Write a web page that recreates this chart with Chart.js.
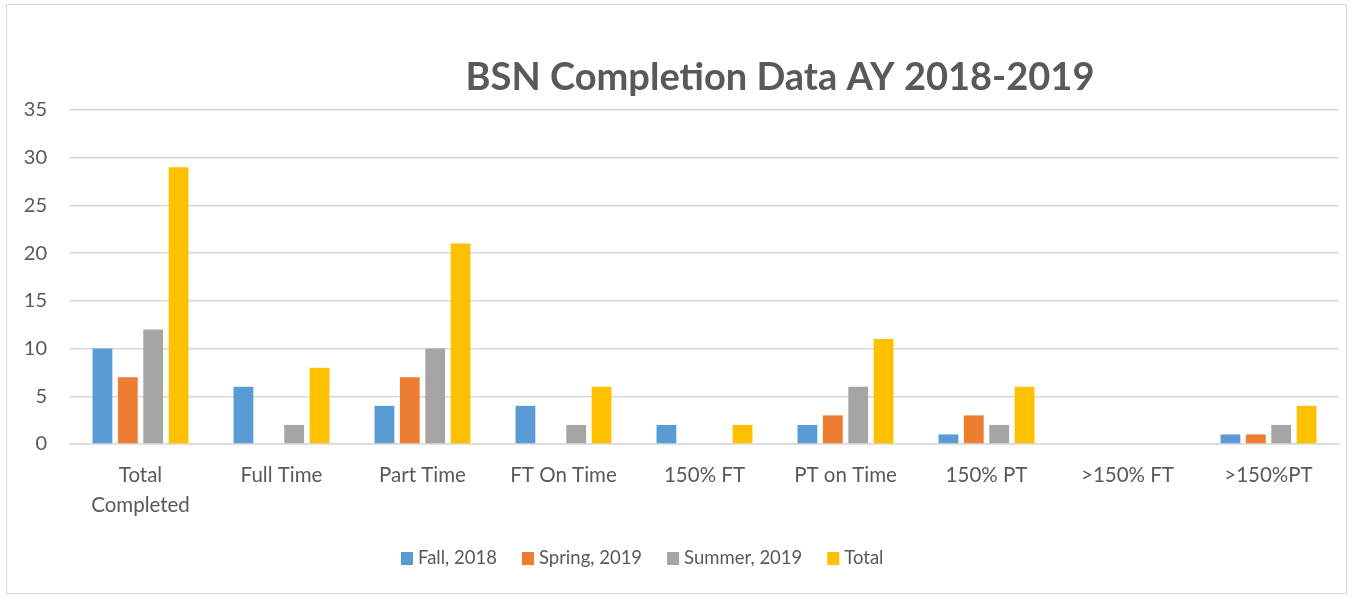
<!DOCTYPE html>
<html>
<head>
<meta charset="utf-8">
<script src="https://cdn.jsdelivr.net/npm/chart.js@4/dist/chart.umd.min.js"></script>
<style>
  html, body { margin: 0; padding: 0; background: #fff; }
  #wrap { position: relative; width: 1352px; height: 597px; }
</style>
</head>
<body>
<div id="wrap"><canvas id="chart" width="1352" height="597"></canvas></div>
<script>
// Chart data
const categories = [['Total', 'Completed'], 'Full Time', 'Part Time', 'FT On Time', '150% FT',
    'PT on Time', '150% PT', '>150% FT', '>150%PT'];
const fall2018   = [10, 6, 4, 4, 2, 2, 1, 0, 1];
const spring2019 = [7, 0, 7, 0, 0, 3, 3, 0, 1];
const summer2019 = [12, 2, 10, 2, 0, 6, 2, 0, 2];
const totals     = [29, 8, 21, 6, 2, 11, 6, 0, 4];
const seriesNames = ['Fall, 2018', 'Spring, 2019', 'Summer, 2019', 'Total'];
const yTicks = [0, 5, 10, 15, 20, 25, 30, 35];

const titleText = 'BSN Completion Data AY 2018-2019';
const textColor = '#595959';
const gridColor = '#d9d9d9';
const font = 'Lato';

// Title sits off-centre like the Excel original, plus the thin outer frame
const frameAndTitle = {
    id: 'frameAndTitle',
    afterDraw(chart) {
        const ctx = chart.ctx;
        ctx.save();
        ctx.strokeStyle = gridColor;
        ctx.lineWidth = 1;
        ctx.strokeRect(6.5, 4.5, 1340, 589);
        ctx.fillStyle = textColor;
        ctx.font = 'bold 38px ' + font;
        ctx.textAlign = 'center';
        ctx.textBaseline = 'alphabetic';
        ctx.fillText(titleText, 780, 90);
        ctx.restore();
    }
};

// Excel-like legend: small squares, tight text gap, built from the datasets
const bottomLegend = {
    id: 'bottomLegend',
    afterDraw(chart) {
        const ctx = chart.ctx;
        ctx.save();
        ctx.font = '18.5px ' + font;
        ctx.textBaseline = 'middle';
        ctx.textAlign = 'left';
        let x = 401;
        const y = 558;
        chart.data.datasets.forEach(ds => {
            ctx.fillStyle = ds.backgroundColor;
            ctx.fillRect(x, y - 6, 12, 13);
            ctx.fillStyle = textColor;
            ctx.fillText(ds.label, x + 17, y);
            x += 17 + ctx.measureText(ds.label).width + 25;
        });
        ctx.restore();
    }
};

function makeSet(label, data, color) {
    return {
        label: label,
        data: data,
        backgroundColor: color,
        borderWidth: 0,
        categoryPercentage: 0.72,
        barPercentage: 0.78
    };
}

new Chart(document.getElementById('chart'), {
    type: 'bar',
    data: {
        labels: categories,
        datasets: [
            makeSet(seriesNames[0], fall2018, '#5B9BD5'),
            makeSet(seriesNames[1], spring2019, '#ED7D31'),
            makeSet(seriesNames[2], summer2019, '#A5A5A5'),
            makeSet(seriesNames[3], totals, '#FFC000')
        ]
    },
    options: {
        responsive: false,
        animation: false,
        layout: { padding: { top: 110, right: 13, left: 0, bottom: 63 } },
        plugins: {
            title: { display: false },
            tooltip: { enabled: false },
            legend: { display: false }
        },
        scales: {
            x: {
                grid: { display: false, drawTicks: false },
                border: { display: true, color: gridColor, width: 1.5 },
                ticks: {
                    color: textColor,
                    padding: 17,
                    maxRotation: 0,
                    autoSkip: false,
                    font: { family: font, size: 20.5, lineHeight: 1.45 }
                },
                afterFit(scale) { scale.height = 90; }
            },
            y: {
                min: 0,
                max: 35,
                afterBuildTicks(scale) { scale.ticks = yTicks.map(v => ({ value: v })); },
                grid: { color: gridColor, lineWidth: 1.5, drawTicks: false },
                border: { display: false },
                ticks: {
                    color: textColor,
                    padding: 23,
                    font: { family: font, size: 20 }
                },
                afterFit(scale) { scale.width = 70; }
            }
        }
    },
    plugins: [frameAndTitle, bottomLegend]
});
</script>
</body>
</html>
